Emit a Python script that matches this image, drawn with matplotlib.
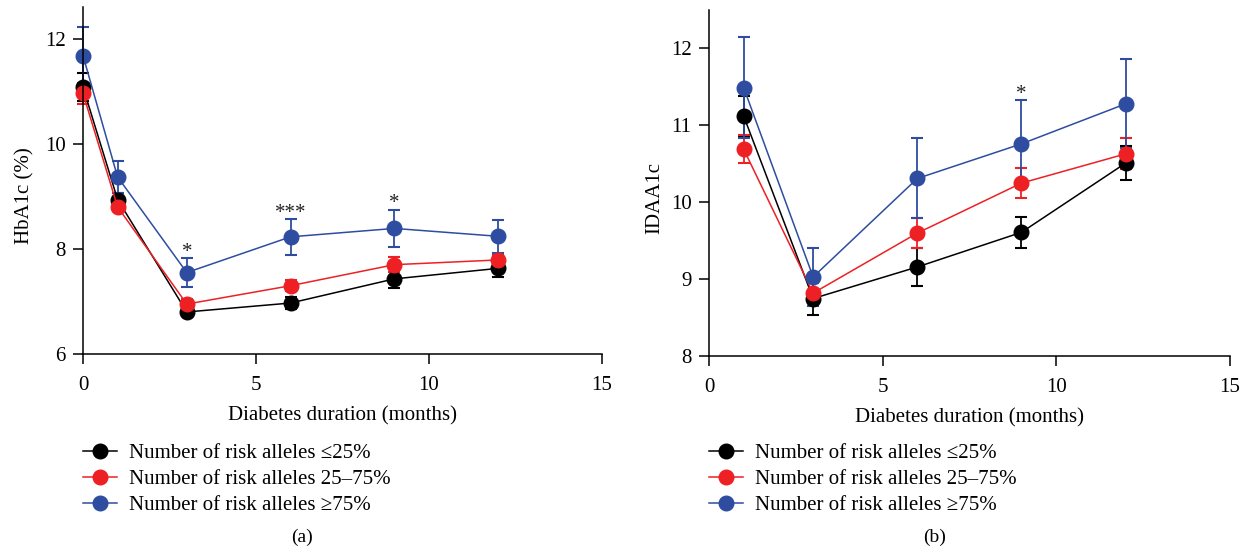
import matplotlib
matplotlib.use('Agg')
import matplotlib.pyplot as plt

plt.rcParams['font.family'] = ['Liberation Serif', 'DejaVu Serif']

# months since diagnosis
months_a = [0, 1, 3, 6, 9, 12]
months_b = [1, 3, 6, 9, 12]

# panel (a) HbA1c (%) mean and error
hba_low = [11.08, 8.94, 6.80, 6.97, 7.43, 7.63]
hba_low_err = [0.27, 0.12, 0.07, 0.12, 0.18, 0.16]
hba_mid = [10.96, 8.80, 6.95, 7.30, 7.70, 7.79]
hba_mid_err = [0.20, 0.08, 0.10, 0.10, 0.14, 0.10]
hba_high = [11.68, 9.37, 7.55, 8.23, 8.39, 8.24]
hba_high_err = [0.55, 0.30, 0.27, 0.34, 0.36, 0.31]

# panel (b) IDAA1c mean and error
ida_low = [11.12, 8.75, 9.16, 9.61, 10.51]
ida_low_err = [0.26, 0.22, 0.25, 0.20, 0.22]
ida_mid = [10.69, 8.82, 9.60, 10.25, 10.63]
ida_mid_err = [0.18, 0.13, 0.19, 0.20, 0.20]
ida_high = [11.49, 9.03, 10.31, 10.76, 11.28]
ida_high_err = [0.66, 0.38, 0.52, 0.57, 0.58]

labels = ['Number of risk alleles \u226425%',
          'Number of risk alleles 25\u201375%',
          'Number of risk alleles \u226575%']
colors = ['black', '#ED2024', '#2E4DA0']

# significance marks: (month, text) - placed on top of the blue error bar
stars_a = [(3, '*'), (6, '***'), (9, '*')]
stars_b = [(9, '*')]

fig = plt.figure(figsize=(12.46, 5.54), dpi=100)
ax1 = fig.add_axes([0.0666, 0.361, 0.4165, 0.626])
ax2 = fig.add_axes([0.569, 0.357, 0.418, 0.625])


def draw(ax, x, series, stars, ylabel, yticks, ylim, ylab_x):
    handles = []
    for (y, e), c, lab in zip(series, colors, labels):
        eb = ax.errorbar(x, y, yerr=e, color=c, marker='o', markersize=10.5,
                         lw=1.1, elinewidth=1.3, capsize=4, capthick=1.5,
                         label=lab, clip_on=False)
        for art in (eb.lines[0],) + tuple(eb.lines[1]) + tuple(eb.lines[2]):
            art.set_clip_on(False)
        handles.append(eb.lines[0])
    hi, hi_err = series[2]
    for m, s in stars:
        i = x.index(m)
        ax.annotate(s, (m, hi[i] + hi_err[i]), xytext=(0, 1), textcoords='offset points',
                    ha='center', va='baseline', fontsize=15, color='#222222')
    ax.set_xlim(0, 15)
    ax.set_ylim(*ylim)
    ax.set_xticks([0, 5, 10, 15])
    ax.set_yticks(yticks)
    for s in ['top', 'right']:
        ax.spines[s].set_visible(False)
    for s in ['left', 'bottom']:
        ax.spines[s].set_linewidth(1.1)
    ax.tick_params(direction='out', length=7, width=1.1, labelsize=15)
    ax.tick_params(axis='x', pad=9)
    ax.tick_params(axis='y', pad=5.5)
    ax.set_xlabel('Diabetes duration (months)', fontsize=15, labelpad=8)
    ax.set_ylabel(ylabel, fontsize=15)
    ax.yaxis.set_label_coords(ylab_x, 0.457)
    return handles


h1 = draw(ax1, months_a, [(hba_low, hba_low_err), (hba_mid, hba_mid_err), (hba_high, hba_high_err)],
          stars_a, 'HbA1c (%)', [6, 8, 10, 12], (6, 12.6), -0.0925)
h2 = draw(ax2, months_b, [(ida_low, ida_low_err), (ida_mid, ida_mid_err), (ida_high, ida_high_err)],
          stars_b, 'IDAA1c', [8, 9, 10, 11, 12], (8, 12.5), -0.086)

for ax, h, lx in [(ax1, h1, 0.0666), (ax2, h2, 0.569)]:
    ax.legend(h, labels, loc='upper left', bbox_to_anchor=(lx, 0.199), bbox_transform=fig.transFigure,
              frameon=False, fontsize=15, borderpad=0, borderaxespad=0,
              handlelength=1.65, handletextpad=0.55, labelspacing=0.3)

fig.text(0.242, 0.03, '(a)', ha='center', va='center', fontsize=14)
fig.text(0.750, 0.03, '(b)', ha='center', va='center', fontsize=14)

fig.savefig('out.png', dpi=100)
